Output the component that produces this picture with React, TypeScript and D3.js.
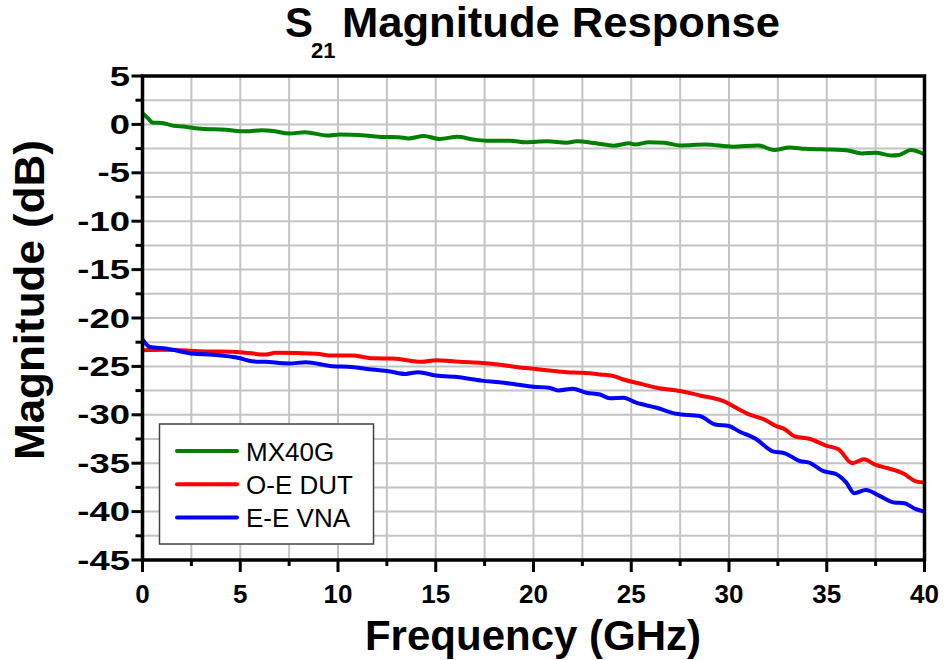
import { useMemo } from 'react'
import * as d3 from 'd3'

const WIDTH = 945
const HEIGHT = 660
const MARGIN = { top: 76, right: 20.5, bottom: 100, left: 142.5 }

const xTicks = [0, 5, 10, 15, 20, 25, 30, 35, 40]
const yTicks = [5, 0, -5, -10, -15, -20, -25, -30, -35, -40, -45]

// MX40G (green) — frequency GHz, dB
const mxFreq = [0, 0.3, 0.5, 1, 1.6, 2.1, 2.5, 3, 4.3, 4.7, 5.3, 6.1, 6.7, 7.5, 8.3, 9.5, 10.1, 11.4, 12.3, 13.1, 13.6, 14.4, 15.2, 16.1, 16.9, 17.6, 18.8, 19.6, 20.7, 21.7, 22.2, 23.2, 24.1, 24.9, 25.2, 25.9, 26.7, 27.5, 28.8, 30.2, 31.5, 32.3, 33.1, 33.9, 35.3, 36, 36.8, 37.5, 38.3, 38.7, 39.3, 40]
const mxDb = [1.15, 0.6, 0.2, 0.15, -0.15, -0.22, -0.33, -0.45, -0.55, -0.65, -0.72, -0.6, -0.68, -0.95, -0.8, -1.15, -1.05, -1.15, -1.3, -1.32, -1.45, -1.2, -1.5, -1.28, -1.55, -1.68, -1.68, -1.85, -1.75, -1.9, -1.75, -1.95, -2.2, -1.95, -2.08, -1.85, -1.9, -2.17, -2.07, -2.3, -2.17, -2.65, -2.38, -2.52, -2.6, -2.66, -3.0, -2.93, -3.2, -3.15, -2.65, -3.1]

// O-E DUT (red)
const oeFreq = [0, 1.2, 2.9, 5, 6.3, 6.8, 8.9, 9.7, 10.7, 11.8, 12.8, 14.3, 15, 16.2, 17.4, 18.3, 19.2, 20, 20.8, 21.7, 22.5, 23.4, 24.1, 24.6, 25.6, 26.3, 27.5, 28.5, 29.9, 30.2, 30.9, 31.9, 32.4, 32.8, 33.4, 34.1, 35, 35.6, 36.3, 36.9, 37.5, 38.1, 38.9, 39.6, 40]
const oeDb = [-23.33, -23.28, -23.43, -23.53, -23.78, -23.6, -23.7, -23.88, -23.88, -24.16, -24.19, -24.53, -24.36, -24.53, -24.64, -24.82, -25.08, -25.25, -25.42, -25.6, -25.66, -25.83, -26.0, -26.35, -26.86, -27.2, -27.55, -28.0, -28.75, -29.1, -29.85, -30.58, -31.16, -31.43, -32.26, -32.47, -33.2, -33.56, -35.0, -34.6, -35.18, -35.5, -36.04, -36.9, -37.0]

// E-E VNA (blue)
const eeFreq = [0, 0.37, 1.2, 2.6, 3.6, 5, 5.6, 6.3, 7.5, 8.35, 9.7, 10.7, 11.75, 12.6, 13.45, 14.1, 15, 16.2, 17.35, 18.25, 19.1, 20, 20.8, 21.3, 22, 22.7, 23.4, 23.9, 24.6, 25.25, 26.3, 27.3, 28.5, 29.3, 30, 30.5, 31.4, 32.2, 32.9, 33.6, 34.1, 34.8, 35.5, 36, 36.4, 37, 37.7, 38.45, 38.96, 39.55, 40]
const eeDb = [-22.22, -22.98, -23.16, -23.7, -23.8, -24.16, -24.47, -24.53, -24.7, -24.57, -24.98, -25.05, -25.33, -25.5, -25.78, -25.6, -25.95, -26.12, -26.47, -26.64, -26.86, -27.1, -27.2, -27.48, -27.3, -27.72, -27.9, -28.3, -28.24, -28.75, -29.27, -29.9, -30.13, -31.0, -31.16, -31.7, -32.53, -33.74, -34.0, -34.77, -34.94, -35.8, -36.14, -37.0, -38.1, -37.76, -38.38, -39.06, -39.13, -39.75, -40.0]

const series = [
  { name: 'MX40G', color: '#008000', freq: mxFreq, db: mxDb },
  { name: 'O-E DUT', color: '#ff0000', freq: oeFreq, db: oeDb },
  { name: 'E-E VNA', color: '#0000ff', freq: eeFreq, db: eeDb },
]

const FONT = "'Liberation Sans', Arial, sans-serif"

export default function App() {
  const x0 = MARGIN.left
  const x1 = WIDTH - MARGIN.right
  const y0 = MARGIN.top
  const y1 = 560

  const xScale = useMemo(() => d3.scaleLinear().domain([0, 40]).range([x0, x1]), [x0, x1])
  const yScale = useMemo(() => d3.scaleLinear().domain([-45, 5]).range([y1, y0]), [y0, y1])

  const gridX = d3.range(2.5, 40, 2.5)
  const gridY = d3.range(-42.5, 5, 2.5)

  const line = d3
    .line<[number, number]>()
    .x((d) => xScale(d[0]))
    .y((d) => yScale(d[1]))
    .curve(d3.curveMonotoneX)

  const legend = { x: 159.5, y: 424, w: 214, h: 120 }

  return (
    <svg
      width={WIDTH}
      height={HEIGHT}
      style={{ position: 'absolute', left: 0, top: 0, background: '#fff' }}
      fontFamily={FONT}
    >
      {/* grid */}
      {gridX.map((v) => (
        <line key={`gx${v}`} x1={xScale(v)} x2={xScale(v)} y1={y0} y2={y1} stroke="#c4c4c4" strokeWidth={2} />
      ))}
      {gridY.map((v) => (
        <line key={`gy${v}`} x1={x0} x2={x1} y1={yScale(v)} y2={yScale(v)} stroke="#c4c4c4" strokeWidth={2} />
      ))}

      {/* curves */}
      <defs>
        <clipPath id="plot">
          <rect x={x0} y={y0} width={x1 - x0} height={y1 - y0} />
        </clipPath>
      </defs>
      <g clipPath="url(#plot)">
        {series.map((s) => (
          <path
            key={s.name}
            d={line(s.freq.map((f, i) => [f, s.db[i]] as [number, number])) || ''}
            fill="none"
            stroke={s.color}
            strokeWidth={4}
            strokeLinejoin="round"
            strokeLinecap="round"
          />
        ))}
      </g>

      {/* x ticks */}
      {d3.range(0, 40.01, 2.5).map((v) => (
        <line
          key={`xt${v}`}
          x1={xScale(v)}
          x2={xScale(v)}
          y1={y1}
          y2={y1 + (v % 5 === 0 ? 12 : 6)}
          stroke="#000"
          strokeWidth={3}
        />
      ))}
      {xTicks.map((v) => (
        <text key={`xl${v}`} x={xScale(v)} y={603} textAnchor="middle" fontSize={26} fontWeight="bold">
          {v}
        </text>
      ))}

      {/* y ticks */}
      {d3.range(-45, 5.01, 2.5).map((v) => (
        <line
          key={`yt${v}`}
          x1={x0}
          x2={x0 - (v % 5 === 0 ? 11 : 7)}
          y1={yScale(v)}
          y2={yScale(v)}
          stroke="#000"
          strokeWidth={3}
        />
      ))}
      {yTicks.map((v) => (
        <text
          key={`yl${v}`}
          transform={`translate(130,${yScale(v) + 9.5}) scale(1.35,1)`}
          textAnchor="end"
          fontSize={27}
          fontWeight="bold"
        >
          {v}
        </text>
      ))}

      {/* frame */}
      <rect x={x0} y={y0} width={x1 - x0} height={y1 - y0} fill="none" stroke="#000" strokeWidth={3.5} />

      {/* legend */}
      <rect x={legend.x} y={legend.y} width={legend.w} height={legend.h} fill="#fff" stroke="#444" strokeWidth={1.5} />
      {series.map((s, i) => {
        const cy = 451 + i * 33.3
        return (
          <g key={`lg${s.name}`}>
            <line x1={177} x2={237} y1={cy} y2={cy} stroke={s.color} strokeWidth={4} strokeLinecap="round" />
            <text x={246} y={cy + 9.5} fontSize={26}>
              {s.name}
            </text>
          </g>
        )
      })}

      {/* title */}
      <text x={285} y={37} fontSize={42} fontWeight="bold">
        S
      </text>
      <text x={311} y={58} fontSize={22} fontWeight="bold">
        21
      </text>
      <text x={342} y={37} fontSize={42} fontWeight="bold" textLength={438} lengthAdjust="spacingAndGlyphs">
        Magnitude Response
      </text>

      {/* axis titles */}
      <text x={533} y={650} textAnchor="middle" fontSize={42} fontWeight="bold">
        Frequency (GHz)
      </text>
      <text
        transform={`translate(44,300) rotate(-90)`}
        textAnchor="middle"
        fontSize={42}
        fontWeight="bold"
        textLength={320}
        lengthAdjust="spacingAndGlyphs"
      >
        Magnitude (dB)
      </text>
    </svg>
  )
}
